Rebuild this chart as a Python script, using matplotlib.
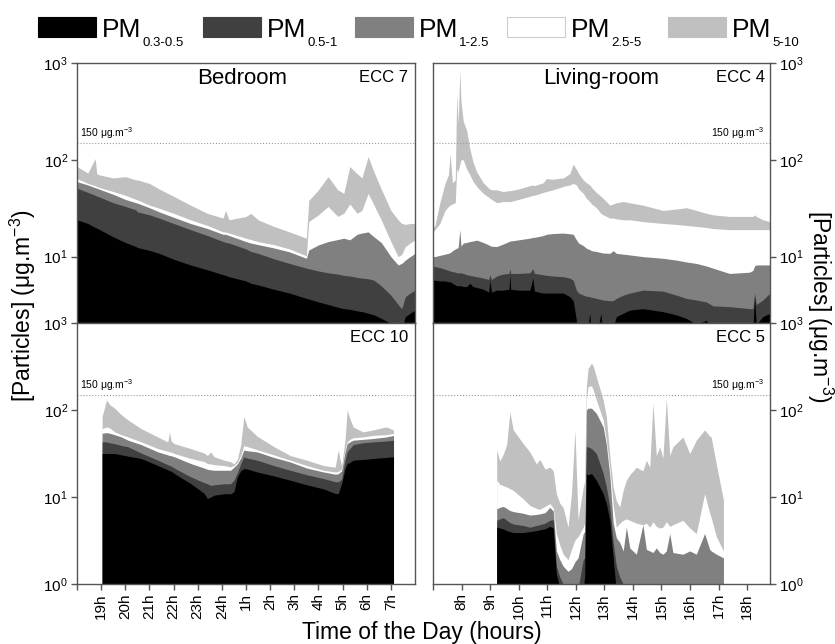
import numpy as np
import matplotlib
matplotlib.use("Agg")
import matplotlib.pyplot as plt
from matplotlib.patches import Rectangle
from matplotlib.ticker import LogLocator, NullLocator

plt.rcParams["font.family"] = ["Liberation Sans", "DejaVu Sans"]
plt.rcParams["mathtext.fontset"] = "custom"
plt.rcParams["mathtext.rm"] = "Liberation Sans"
plt.rcParams["mathtext.it"] = "Liberation Sans:italic"
plt.rcParams["mathtext.bf"] = "Liberation Sans:bold"

# --- size classes (cumulative: PM0.5, PM1, PM2.5, PM5, PM10) ---
legend_subs = ["0.3-0.5", "0.5-1", "1-2.5", "2.5-5", "5-10"]
layer_colors = ["#000000", "#404040", "#808080", "#ffffff", "#c0c0c0"]

# --- x ticks ---
night_ticks = [18, 19, 20, 21, 22, 23, 24, 25, 26, 27, 28, 29, 30, 31]
night_labels = ["", "19h", "20h", "21h", "22h", "23h", "24h", "1h", "2h", "3h", "4h", "5h", "6h", "7h"]
day_ticks = [7, 8, 9, 10, 11, 12, 13, 14, 15, 16, 17, 18]
day_labels = ["", "8h", "9h", "10h", "11h", "12h", "13h", "14h", "15h", "16h", "17h", "18h"]

# --- Bedroom, ECC 7 (hours after midnight shown as 24+) ---
bed7_t = [18.0, 18.45, 18.75, 18.82, 18.9, 19.5, 20.0, 20.44, 20.5, 21.0,
          21.4, 22.0, 22.7, 23.4, 24.05, 24.15, 24.3, 25.0, 25.2, 25.5,
          26.15, 26.8, 27.5, 27.6, 28.0, 28.4, 28.8, 29.05, 29.3, 29.6,
          29.8, 30.06, 30.3, 30.6, 31.0, 31.3, 31.45, 31.6, 31.8, 32.0]
bed7_pm10 = [85, 73, 103, 72, 70, 65, 67, 62, 62, 57,
             50, 42, 34, 28, 25, 30, 24, 26, 28, 24,
             20.5, 18, 15.5, 38, 49, 67, 49, 45, 85, 72,
             65, 108, 75, 50, 30, 24, 22, 21.5, 22, 22]
bed7_pm5 = [64, 57, 54, 53, 52, 47, 43, 39, 38.6, 34,
            31.6, 28, 24, 21, 18, 18, 17.5, 15.5, 15, 14.3,
            13.3, 12, 10.2, 23, 27, 33, 26, 28, 35, 28,
            30, 45, 34, 24, 14.3, 10, 10.5, 12.7, 13.8, 14.9]
bed7_pm25 = [59.5, 55, 51.5, 51, 50, 44, 39, 36, 35.7, 32,
             29, 25.5, 22, 19.5, 17, 17, 16.5, 14.3, 13.8, 13.3,
             12.3, 11.2, 9.6, 11.7, 13.2, 14.3, 15, 15.5, 14.9, 17,
             17.5, 18, 16, 14, 10, 8.2, 8.5, 9.2, 10, 10.8]
bed7_pm1 = [51, 46, 43, 42, 41.5, 36, 33, 30.4, 29, 27,
            25, 22, 19, 16.5, 14.3, 14, 13.8, 12, 11.3, 10.8,
            9.5, 8.5, 7.6, 7.5, 7.1, 6.8, 6.6, 6.4, 6.3, 6.1,
            6.0, 5.9, 5.7, 5.0, 4.0, 3.2, 2.9, 3.85, 4.2, 4.5]
bed7_pm05 = [24, 22, 20, 19.7, 19.2, 16, 14, 12.7, 12.4, 11.6,
             10.8, 9.4, 8.2, 7.3, 6.5, 6.4, 6.2, 5.6, 5.3, 5.1,
             4.6, 4.2, 3.7, 3.65, 3.4, 3.2, 3.0, 2.9, 2.85, 2.75,
             2.7, 2.6, 2.5, 2.3, 2.05, 1.9, 1.8, 2.4, 2.6, 2.8]

# --- Bedroom, ECC 10 ---
bed10_t = [19.04, 19.22, 19.36, 19.56, 19.84, 20.11, 20.66, 21.35, 21.76, 21.83,
           21.9, 22.03, 22.72, 23.27, 23.4, 23.54, 23.68, 24.09, 24.36, 24.5,
           24.64, 24.78, 24.91, 25.05, 25.46, 26.15, 26.83, 27.52, 28.21, 28.69,
           28.82, 28.96, 29.1, 29.19, 29.3, 29.44, 29.85, 30.26, 30.81, 31.11]
bed10_pm10 = [84, 130, 115, 105, 88, 77, 61, 49, 43, 56,
              44, 41, 36, 32, 30, 33, 29, 26.5, 25.5, 24,
              27, 40, 84, 64, 50, 38, 30, 26.5, 23, 22,
              34.6, 22.5, 45, 100, 80, 64, 56, 59, 64, 59]
bed10_pm5 = [61, 64, 62, 56, 52, 49, 43, 36, 33.5, 33,
             32.8, 31.6, 27.7, 25.5, 24.2, 24, 23.5, 23, 22.2, 23,
             25, 30, 39, 38, 35, 30.5, 26.5, 23, 20.3, 19.4,
             19.6, 21, 35, 43, 46, 48, 49, 51, 52, 53.8]
bed10_pm25 = [54, 55, 54, 52, 49, 45, 40, 33, 30.5, 30,
              29.8, 29, 24.2, 21.5, 20.8, 20.5, 20.3, 20.3, 20.3, 22,
              24, 28, 34.6, 34, 33, 28.5, 25.3, 21.5, 19.4, 18.3,
              18.5, 20, 33, 41, 43, 45, 46, 47, 49, 51]
bed10_pm1 = [43, 43, 42, 41, 39, 37.8, 32, 26.5, 23.5, 23,
             22.7, 21.5, 17, 14.6, 14.2, 13.6, 13.8, 14.2, 14.2, 15.6,
             19, 24, 28.9, 28, 26.5, 23, 20.3, 18, 16.3, 15,
             14.9, 16, 26, 33, 36, 40, 42, 43, 44, 45]
bed10_pm05 = [31.6, 31.6, 31.6, 31.6, 30.5, 29.5, 27.7, 23, 20.5, 20,
              19.8, 18.6, 14.2, 11, 9.6, 10.0, 10.5, 10.9, 10.9, 11.5,
              17, 20, 21.2, 21, 19.4, 17.5, 15.6, 13.8, 12.4, 11.0,
              10.9, 14.2, 21, 24.2, 25, 26.5, 27, 27.7, 28.5, 28.9]

# --- Living-room, ECC 4 ---
liv4_t = [7.0, 7.07, 7.24, 7.42, 7.54, 7.6, 7.68, 7.78, 7.83, 7.88,
          7.94, 7.98, 8.06, 8.18, 8.29, 8.4, 8.53, 8.76, 8.95, 8.99,
          9.05, 9.23, 9.46, 9.66, 9.69, 9.72, 10.0, 10.39, 10.5, 10.55,
          10.86, 10.97, 11.2, 11.56, 11.79, 11.91, 12.02, 12.1, 12.26, 12.37,
          12.49, 12.55, 12.72, 12.88, 12.96, 13.19, 13.31, 13.42, 13.66, 13.89,
          14.35, 15.05, 15.52, 15.87, 16.22, 16.57, 16.8, 17.38, 18.08, 18.2,
          18.26, 18.32, 18.55, 18.8]
liv4_pm10 = [20, 21, 36, 57, 70, 115, 58, 62, 480, 240,
             850, 400, 250, 200, 130, 95, 75, 58, 51, 50,
             49, 49, 47, 48, 48, 48, 50, 54, 55, 54,
             58, 64, 63, 65, 72, 90, 80, 72, 62, 58,
             55, 52, 46, 42, 40, 34, 35, 36, 37, 36,
             34, 30, 31, 32, 30, 28, 27, 26, 26, 26,
             27, 26, 24, 23]
liv4_pm5 = [18, 19, 22, 30, 33, 34, 35, 36, 80, 75,
            90, 100, 100, 80, 70, 60, 53, 45, 41, 40,
            39, 36, 37, 37, 37, 37, 39, 42, 43, 43,
            46, 47, 49, 53, 55, 57, 55, 50, 45, 40,
            37, 35, 32, 28, 27, 25, 25, 24.5, 24, 24,
            23, 22, 21.5, 21, 20.5, 20, 19.5, 19, 19, 19,
            19, 19, 19, 19]
liv4_pm25 = [10, 10, 10.3, 10.6, 10.8, 11.0, 11.5, 12.0, 12.2, 12.4,
             19, 12.8, 13.8, 14.0, 14.3, 14.5, 14.8, 14.0, 13.2, 13.0,
             12.8, 12.7, 13.5, 14.3, 14.5, 14.5, 14.9, 15.5, 15.8, 15.8,
             16.5, 17, 17.3, 17.5, 17.2, 17, 14.9, 13.8, 13.0, 12.2,
             11.8, 11.5, 11.3, 11.0, 10.9, 10.8, 11.5, 10.8, 10.6, 10.4,
             10.0, 9.6, 9.2, 8.8, 8.5, 8.0, 7.6, 6.7, 6.9, 7.2,
             8.0, 8.2, 8.2, 8.2]
liv4_pm1 = [7.9, 7.9, 7.7, 7.4, 7.2, 7.1, 7.0, 6.9, 6.8, 6.8,
            6.8, 6.8, 6.7, 6.5, 6.4, 6.3, 6.2, 6.0, 5.8, 6.5,
            5.8, 6.3, 6.6, 6.7, 7.5, 6.7, 6.7, 6.8, 7.5, 6.7,
            6.5, 6.4, 6.3, 6.2, 6.0, 5.7, 4.5, 4.2, 4.0, 3.9,
            3.85, 3.8, 3.7, 3.6, 3.56, 3.5, 3.5, 3.7, 4.0, 4.2,
            4.5, 4.4, 4.0, 3.7, 3.56, 3.4, 3.1, 3.04, 2.9, 2.9,
            4.2, 3.2, 3.56, 4.2]
liv4_pm05 = [5.7, 5.7, 5.6, 5.6, 5.5, 5.5, 5.3, 5.1, 5.0, 5.0,
             5.0, 5.0, 4.9, 4.9, 5.3, 4.9, 4.8, 4.6, 4.3, 5.7,
             4.3, 4.5, 4.5, 4.6, 6.5, 4.6, 4.5, 4.5, 6.0, 4.4,
             4.2, 4.2, 4.2, 4.2, 3.85, 3.5, 2.2, 1.5, 1.5, 1.5,
             2.6, 1.5, 1.5, 2.6, 1.5, 1.6, 1.9, 2.4, 2.6, 2.8,
             2.9, 2.7, 2.5, 2.3, 2.0, 2.2, 1.8, 1.8, 1.8, 1.8,
             3.8, 2.0, 2.4, 2.6]

# --- Living-room, ECC 5 ---
liv5_t = [9.23, 9.34, 9.46, 9.58, 9.69, 9.81, 10.16, 10.39, 10.62, 10.74,
          10.92, 11.09, 11.21, 11.32, 11.44, 11.56, 11.73, 11.85, 11.97, 12.08,
          12.26, 12.31, 12.37, 12.43, 12.55, 12.61, 12.72, 12.96, 13.07, 13.19,
          13.31, 13.42, 13.54, 13.66, 13.77, 13.89, 14.12, 14.35, 14.47, 14.59,
          14.70, 14.82, 14.94, 15.05, 15.17, 15.29, 15.40, 15.75, 15.99, 16.22,
          16.51, 16.69, 16.74, 16.92, 17.17]
liv5_pm10 = [34.6, 26, 31, 40, 95, 59, 41, 33, 24, 27,
             21, 22, 20, 10.9, 8.5, 7.5, 4.5, 11, 59, 5.5,
             13, 15, 186, 300, 345, 320, 240, 130, 84, 30,
             13, 9, 7.7, 12, 15.6, 18, 22, 20, 26.5, 22,
             119, 30, 37.8, 28, 136, 30, 37.8, 49, 31.6, 45,
             59, 50, 49, 24, 9.2]
liv5_pm5 = [15.6, 14, 13.5, 13, 12.5, 11.9, 9.5, 8.0, 7.4, 7.2,
            7.8, 8.4, 7.5, 3.8, 2.8, 2.2, 1.9, 2.5, 3.2, 3.5,
            4.5, 5, 130, 186, 190, 170, 130, 77, 45, 22,
            8, 4.5, 5.0, 5.4, 5.6, 5.4, 5.0, 4.8, 5.0, 4.5,
            5.2, 4.6, 4.4, 4.5, 5.2, 4.6, 4.8, 5.4, 4.4, 3.8,
            10.9, 6.5, 5.8, 3.5, 2.4]
liv5_pm25 = [7.3, 7.6, 7.8, 7.4, 7.0, 6.8, 6.5, 6.2, 6.3, 6.4,
             6.6, 7.6, 6.9, 2.4, 1.9, 1.6, 1.4, 1.5, 1.8, 2.0,
             3.8, 4, 100, 105, 105, 100, 91.5, 64, 40, 18,
             5, 3.4, 3.0, 2.4, 4.5, 2.6, 2.2, 4.8, 2.5, 2.4,
             2.3, 2.6, 2.3, 2.2, 2.4, 3.8, 2.3, 2.2, 2.4, 2.2,
             3.8, 2.5, 2.4, 2.2, 2.0]
liv5_pm1 = [5.4, 5.6, 5.8, 5.4, 5.1, 4.9, 4.7, 4.5, 4.7, 4.8,
            5.0, 5.4, 5.5, 1.6, 1.2, 1.0, 0.9, 0.9, 0.9, 0.9,
            1.9, 2, 37.8, 37.8, 36, 34.6, 31.6, 18.6, 13, 7.7,
            3, 1.6, 1.2, 1.0, 0.9, 0.9, 0.9, 0.9, 0.9, 0.9,
            0.9, 0.9, 0.9, 0.9, 0.9, 0.9, 0.9, 0.9, 0.9, 0.9,
            0.9, 0.9, 0.9, 0.9, 0.9]
liv5_pm05 = [4.5, 4.4, 4.3, 4.1, 4.0, 3.9, 3.9, 4.0, 4.1, 4.2,
             4.3, 4.6, 4.4, 1.3, 0.9, 0.8, 0.8, 0.8, 0.8, 0.8,
             0.9, 1.2, 18.6, 18, 18.6, 17.5, 15.6, 10.9, 8.4, 5.4,
             2.0, 0.8, 0.8, 0.8, 0.8, 0.8, 0.8, 0.8, 0.8, 0.8,
             0.8, 0.8, 0.8, 0.8, 0.8, 0.8, 0.8, 0.8, 0.8, 0.8,
             0.8, 0.8, 0.8, 0.8, 0.8]


def stack(ax, t, pm05, pm1, pm25, pm5, pm10):
    # draw from the coarsest cumulative level down so layers never leave seams
    levels = [pm05, pm1, pm25, pm5, pm10]
    for vals, col in reversed(list(zip(levels, layer_colors))):
        ax.fill_between(t, 0.1, vals, color=col, lw=0)


def style(ax, right=False, bottom=False, top_panel=False):
    ax.set_yscale("log")
    ax.set_ylim(10 ** 0.314 if top_panel else 1, 1000)
    ax.yaxis.set_major_locator(LogLocator(base=10, numticks=6))
    ax.yaxis.set_minor_locator(NullLocator())
    for s in ax.spines.values():
        s.set_color("#555555")
        s.set_linewidth(1.0)
    ax.tick_params(axis="y", direction="out", length=4, width=1,
                   color="#555555", labelsize=11, pad=2.5)
    if right:
        ax.yaxis.tick_right()
    if not bottom:
        ax.tick_params(axis="x", bottom=False, labelbottom=False)
    else:
        ax.tick_params(axis="x", direction="out", length=4, width=1,
                       color="#555555", pad=2.5)
    ax.axhline(150, color="#9a9a9a", ls=":", lw=0.8)
    if right:
        ax.text(0.985, 158, "150 \u03bcg.m$^{-3}$", transform=ax.get_yaxis_transform(),
                ha="right", va="bottom", fontsize=7.5)
    else:
        ax.text(0.01, 158, "150 \u03bcg.m$^{-3}$", transform=ax.get_yaxis_transform(),
                ha="left", va="bottom", fontsize=7.5)


fig = plt.figure(figsize=(8.35, 6.44), dpi=100)
W, H = 835.0, 644.0

ax_tl = fig.add_axes([77 / W, 1 - 323 / H, 338 / W, 260 / H])
ax_bl = fig.add_axes([77 / W, 1 - 584 / H, 338 / W, 261 / H])
ax_tr = fig.add_axes([433 / W, 1 - 323 / H, 337 / W, 260 / H])
ax_br = fig.add_axes([433 / W, 1 - 584 / H, 337 / W, 261 / H])

stack(ax_tl, bed7_t, bed7_pm05, bed7_pm1, bed7_pm25, bed7_pm5, bed7_pm10)
stack(ax_bl, bed10_t, bed10_pm05, bed10_pm1, bed10_pm25, bed10_pm5, bed10_pm10)
stack(ax_tr, liv4_t, liv4_pm05, liv4_pm1, liv4_pm25, liv4_pm5, liv4_pm10)
stack(ax_br, liv5_t, liv5_pm05, liv5_pm1, liv5_pm25, liv5_pm5, liv5_pm10)

style(ax_tl, top_panel=True)
style(ax_bl, bottom=True)
style(ax_tr, right=True, top_panel=True)
style(ax_br, right=True, bottom=True)

for ax in (ax_tl, ax_bl):
    ax.set_xlim(18, 32)
ax_bl.set_xticks(night_ticks)
ax_bl.set_xticklabels(night_labels, rotation=90, fontsize=11)
for ax in (ax_tr, ax_br):
    ax.set_xlim(7, 18.8)
ax_br.set_xticks(day_ticks)
ax_br.set_xticklabels(day_labels, rotation=90, fontsize=11)

ax_tl.text(0.49, 0.942, "Bedroom", transform=ax_tl.transAxes, ha="center", va="center", fontsize=16)
ax_tr.text(0.50, 0.942, "Living-room", transform=ax_tr.transAxes, ha="center", va="center", fontsize=16)
ax_tl.text(0.98, 0.946, "ECC 7", transform=ax_tl.transAxes, ha="right", va="center", fontsize=12)
ax_tr.text(0.985, 0.946, "ECC 4", transform=ax_tr.transAxes, ha="right", va="center", fontsize=12)
ax_bl.text(0.98, 0.946, "ECC 10", transform=ax_bl.transAxes, ha="right", va="center", fontsize=12)
ax_br.text(0.985, 0.946, "ECC 5", transform=ax_br.transAxes, ha="right", va="center", fontsize=12)

ylab = "[Particles] (\u03bcg.m$^{-3}$)"
fig.text(23 / W, 1 - 306 / H, ylab, rotation=90, ha="center", va="center", fontsize=16.5)
fig.text(820 / W, 1 - 306 / H, ylab, rotation=270, ha="center", va="center", fontsize=16.5)
fig.text(422 / W, 1 - 633 / H, "Time of the Day (hours)", ha="center", va="center",
         fontsize=16.5)

# --- legend row drawn by hand (big "PM", small subscript) ---
patch_x = [38, 203, 355, 507, 668]
renderer = fig.canvas.get_renderer()
for x0, sub, col in zip(patch_x, legend_subs, layer_colors):
    ec = "#cccccc" if col == "#ffffff" else col
    fig.patches.append(Rectangle((x0 / W, 1 - 37 / H), 58 / W, 20 / H,
                                 transform=fig.transFigure, facecolor=col,
                                 edgecolor=ec, lw=0.8))
    pm = fig.text((x0 + 64) / W, 1 - 37 / H, "PM", ha="left", va="baseline", fontsize=19)
    bb = pm.get_window_extent(renderer)
    fig.text(bb.x1 / W + 1 / W, 1 - 46 / H, sub, ha="left", va="baseline",
             fontsize=9.5)

fig.savefig("out.png", dpi=100)
